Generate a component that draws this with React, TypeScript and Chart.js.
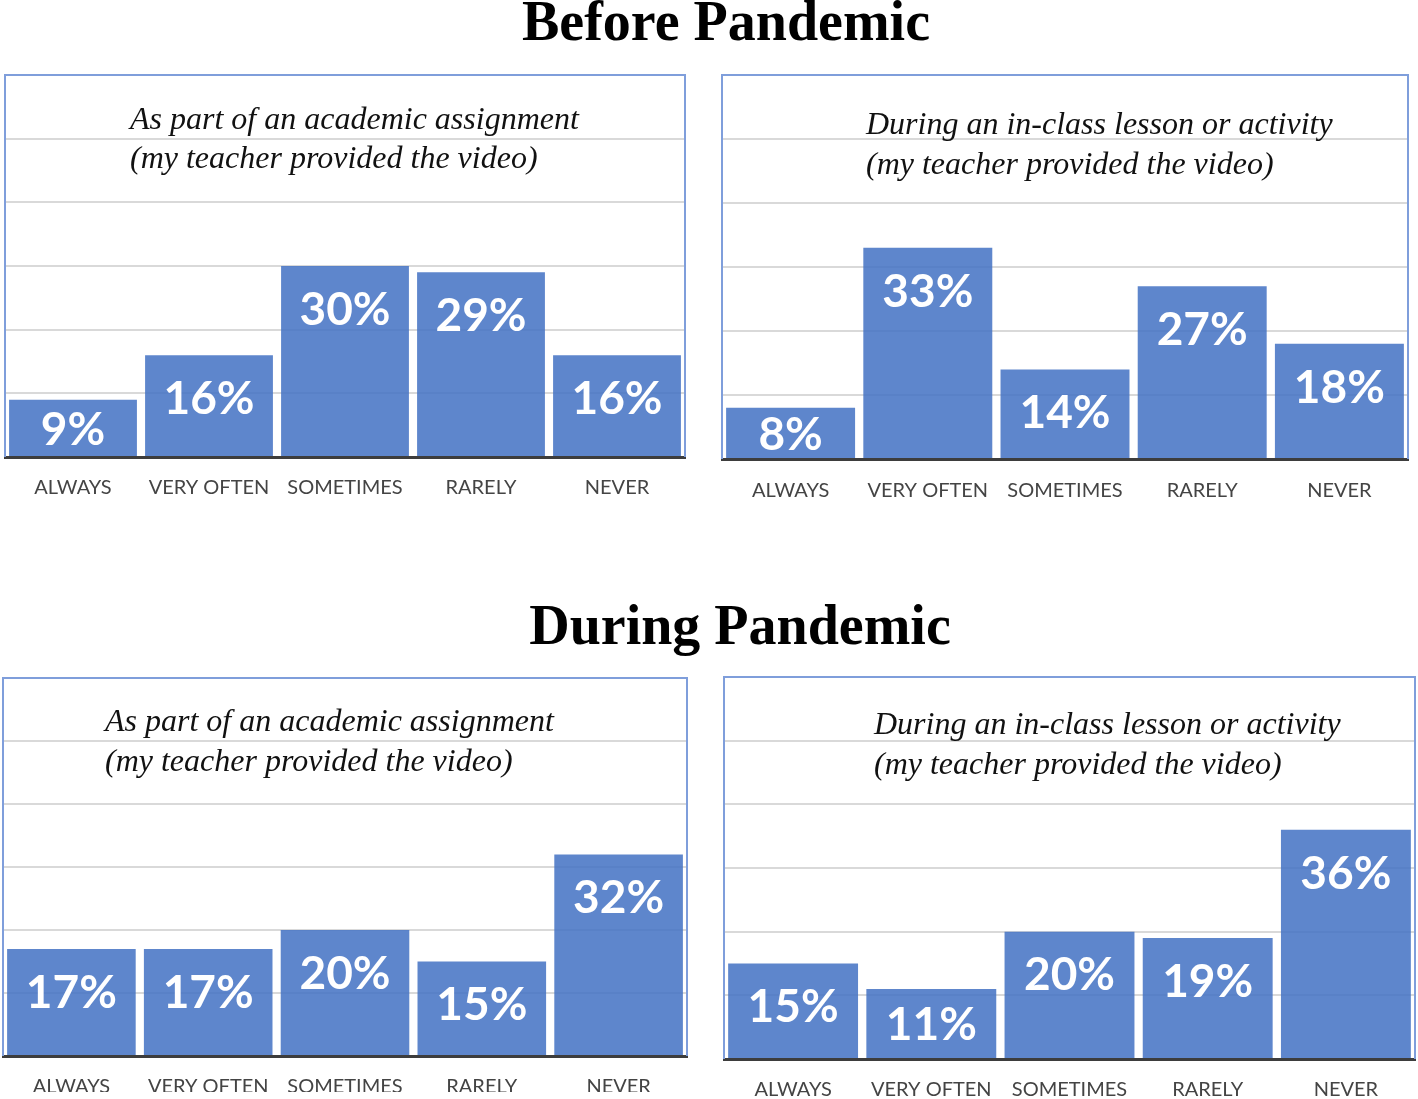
import React, { useEffect, useRef } from "react";
import { Chart, registerables } from "chart.js";

Chart.register(...registerables);

const categories = ["ALWAYS", "VERY OFTEN", "SOMETIMES", "RARELY", "NEVER"];
const beforeAssignment = [9, 16, 30, 29, 16];
const beforeInClass = [8, 33, 14, 27, 18];
const duringAssignment = [17, 17, 20, 15, 32];
const duringInClass = [15, 11, 20, 19, 36];
const titleAssignment = ["As part of an academic assignment", "(my teacher provided the video)"];
const titleInClass = ["During an in-class lesson or activity", "(my teacher provided the video)"];
const yMin = 0;
const yMax = 60;
const yStep = 10;
const headingBefore = "Before Pandemic";
const headingDuring = "During Pandemic";

type Layout = {
  L: number; T: number; R: number; B: number;
  pad: number; tdx: number; tdy1: number; tdy2: number; clip?: number;
};

const PAD = 4;
const BAR_COLOR = "rgba(68,114,196,0.86)";

function Panel({ values, title, lay }: { values: number[]; title: string[]; lay: Layout }) {
  const ref = useRef<HTMLCanvasElement>(null);
  const width = lay.R - lay.L + PAD * 2;
  const axisH = 24 + lay.pad * 2;
  const height = lay.B - lay.T + PAD + axisH + 2;

  useEffect(() => {
    if (!ref.current) return;
    const boxPlugin = {
      id: "boxAndTitle",
      beforeDatasetsDraw(chart: any) {
        const { ctx, chartArea } = chart;
        ctx.save();
        ctx.strokeStyle = "#7f9edb";
        ctx.lineWidth = 2;
        ctx.beginPath();
        ctx.moveTo(chartArea.left, chartArea.bottom);
        ctx.lineTo(chartArea.left, chartArea.top);
        ctx.lineTo(chartArea.right, chartArea.top);
        ctx.lineTo(chartArea.right, chartArea.bottom);
        ctx.stroke();
        ctx.restore();
      },
      afterDatasetsDraw(chart: any) {
        const { ctx, chartArea } = chart;
        ctx.save();
        ctx.fillStyle = "#111";
        ctx.font = "italic 32px 'Liberation Serif'";
        ctx.textAlign = "left";
        ctx.textBaseline = "alphabetic";
        ctx.fillText(title[0], chartArea.left + lay.tdx, chartArea.top + lay.tdy1);
        ctx.fillText(title[1], chartArea.left + lay.tdx, chartArea.top + lay.tdy2);
        const meta = chart.getDatasetMeta(0);
        ctx.fillStyle = "#ffffff";
        ctx.font = "bold 46px Lato";
        ctx.textAlign = "center";
        ctx.textBaseline = "middle";
        meta.data.forEach((bar: any, i: number) => {
          const top = bar.y;
          const base = bar.base;
          const cy = Math.min(top + 42, (top + base) / 2);
          ctx.fillText(values[i] + "%", bar.x, cy + 2);
        });
        ctx.restore();
      },
    };
    const chart = new Chart(ref.current, {
      type: "bar",
      data: {
        labels: categories,
        datasets: [
          {
            data: values,
            backgroundColor: BAR_COLOR,
            borderWidth: 0,
            barPercentage: 0.94,
            categoryPercentage: 1,
          },
        ],
      },
      options: {
        responsive: false,
        animation: false,
        devicePixelRatio: 1,
        layout: { padding: { left: PAD, right: PAD, top: PAD, bottom: 2 } },
        plugins: { legend: { display: false }, tooltip: { enabled: false }, title: { display: false } },
        scales: {
          x: {
            grid: { display: false, drawTicks: false },
            border: { display: true, color: "#3d3d3d", width: 3 },
            ticks: {
              color: "#444444",
              font: { family: "Lato", size: 20 },
              padding: lay.pad,
              maxRotation: 0,
              autoSkip: false,
            },
          },
          y: {
            min: yMin,
            max: yMax,
            ticks: { display: false, stepSize: yStep },
            grid: { color: "#d9d9d9", lineWidth: 2, drawTicks: false },
            border: { display: false },
          },
        },
      },
      plugins: [boxPlugin],
    } as any);
    return () => chart.destroy();
  }, []);

  const outerH = lay.clip ? lay.clip - (lay.T - PAD) : height;
  return (
    <div
      style={{
        position: "absolute",
        left: lay.L - PAD,
        top: lay.T - PAD,
        width,
        height: outerH,
        overflow: "hidden",
      }}
    >
      <canvas ref={ref} width={width} height={height} style={{ display: "block" }} />
    </div>
  );
}

const headingStyle: React.CSSProperties = {
  position: "absolute",
  left: 0,
  width: 0,
  whiteSpace: "nowrap",
  fontFamily: "'Liberation Serif', serif",
  fontWeight: "bold",
  fontSize: 56,
  lineHeight: "56px",
  color: "#000",
};

const layouts: Layout[] = [
  { L: 5, T: 75, R: 685, B: 457, pad: 19, tdx: 125, tdy1: 54, tdy2: 93 },
  { L: 722, T: 75, R: 1408, B: 459, pad: 20, tdx: 144, tdy1: 59, tdy2: 99 },
  { L: 3, T: 678, R: 687, B: 1056, pad: 19, tdx: 102, tdy1: 53, tdy2: 93, clip: 1092 },
  { L: 724, T: 677, R: 1415, B: 1059, pad: 19, tdx: 150, tdy1: 57, tdy2: 97 },
];

export default function App() {
  return (
    <div style={{ position: "absolute", left: 0, top: 0, width: 1418, height: 1099, background: "#fff", overflow: "hidden" }}>
      <div style={{ ...headingStyle, top: -7, left: 726, display: "flex", justifyContent: "center" }}>
        <span>{headingBefore}</span>
      </div>
      <div style={{ ...headingStyle, top: 597, left: 740, display: "flex", justifyContent: "center" }}>
        <span>{headingDuring}</span>
      </div>
      <Panel values={beforeAssignment} title={titleAssignment} lay={layouts[0]} />
      <Panel values={beforeInClass} title={titleInClass} lay={layouts[1]} />
      <Panel values={duringAssignment} title={titleAssignment} lay={layouts[2]} />
      <Panel values={duringInClass} title={titleInClass} lay={layouts[3]} />
    </div>
  );
}
